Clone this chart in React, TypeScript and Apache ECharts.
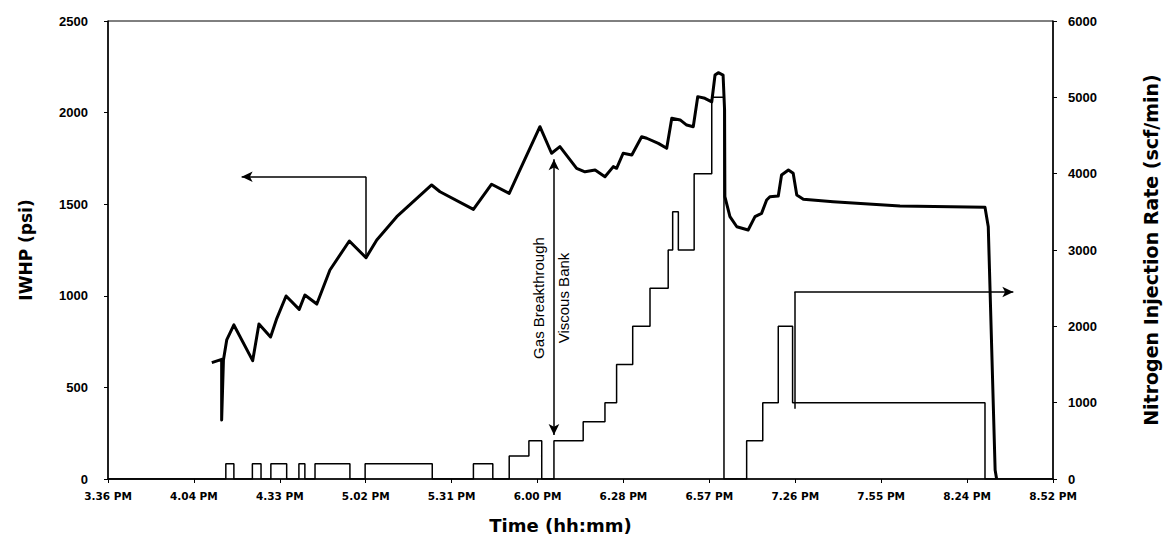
import React, { useEffect, useRef } from "react";
import * as echarts from "echarts";

// X axis: minutes after 3:36 PM, ticks every 28.8 min
const xTickLabels = [
  "3.36 PM", "4.04 PM", "4.33 PM", "5.02 PM", "5.31 PM", "6.00 PM",
  "6.28 PM", "6.57 PM", "7.26 PM", "7.55 PM", "8.24 PM", "8.52 PM",
];
const xStep = 28.8;

// IWHP (psi) vs minutes after 3:36 PM
const iwhpTime = [
  34.8, 38.1, 38.1, 38.7, 39.8, 42.2, 48.5, 50.6, 54.5, 56.6, 59.7, 64.1, 66.0,
  70.0, 74.4, 80.9, 86.5, 90.1, 96.8, 108.5, 111.3, 122.5, 128.6, 134.5, 138.1,
  144.8, 148.7, 151.5, 157.1, 159.9, 163.3, 166.6, 169.4, 170.5, 172.7, 175.6,
  178.9, 180.6, 184.5, 187.3, 189.0, 191.8, 194.0, 196.2, 197.7, 200.1, 202.4,
  203.5, 204.6, 206.2, 206.7, 206.8, 208.5, 210.8, 214.6, 216.9, 219.1, 220.8,
  221.9, 224.7, 225.8, 228.1, 229.7, 230.9, 233.1, 243.1, 265.5, 294.0, 295.1,
  297.4, 297.9,
];
const iwhpPsi = [
  635, 653, 322, 650, 759, 841, 646, 846, 775, 877, 999, 926, 1004,
  955, 1141, 1299, 1208, 1305, 1432, 1605, 1568, 1472, 1609, 1559, 1687,
  1923, 1778, 1814, 1696, 1677, 1687, 1650, 1705, 1696, 1778, 1769,
  1868, 1860, 1832, 1805, 1969, 1960, 1932, 1923, 2087, 2078, 2059,
  2205, 2218, 2205, 2014, 1541, 1432, 1377, 1359, 1432, 1450, 1523,
  1541, 1545, 1659, 1687, 1669, 1550, 1527, 1514, 1490, 1483, 1377,
  49, 0,
];

// Nitrogen injection rate (scf/min): value holds from this time until the next
const rateTime = [
  0, 39.5, 42.2, 48.4, 51.3, 54.6, 59.9, 64.0, 66.0, 69.4, 81.1, 86.2, 108.7,
  122.5, 129.0, 134.5, 141.1, 145.4, 149.5, 159.3, 166.6, 170.5, 175.9, 181.7,
  187.8, 189.3, 191.2, 196.5, 202.4, 206.5, 214.1, 219.5, 224.7, 229.5, 294.0,
  316.8,
];
const rateScf = [
  0, 200, 0, 200, 0, 200, 0, 200, 0, 200, 0, 200, 0,
  200, 0, 300, 500, 0, 500, 750, 1000, 1500, 2000, 2500,
  3000, 3500, 3000, 4000, 5000, 0, 500, 1000, 2000, 1000, 0,
  0,
];

// Annotation anchors (data units)
const leftArrow = { x: 86.5, fromPsi: 1208, atPsi: 1650, toX: 44.8 };
const rightArrow = { x: 230.1, fromScf: 920, atScf: 2450, toX: 303.5 };
const breakthrough = { x: 149.5, topPsi: 1745, bottomPsi: 240 };

export default function App() {
  const ref = useRef<HTMLDivElement>(null);

  useEffect(() => {
    if (!ref.current) return;
    const chart = echarts.init(ref.current, undefined, { renderer: "svg" });
    const black = "#000";
    const tickFont = { color: black, fontFamily: "Liberation Sans", fontWeight: "bold" as const, fontSize: 13 };
    const plain = (v: number) => String(v);

    chart.setOption({
      animation: false,
      backgroundColor: "#fff",
      grid: { left: 108, right: 117, top: 21, bottom: 61, show: true, borderColor: black, borderWidth: 1 },
      xAxis: {
        type: "value",
        min: 0,
        max: xStep * (xTickLabels.length - 1),
        interval: xStep,
        name: "Time (hh:mm)",
        nameLocation: "middle",
        nameGap: 37,
        nameTextStyle: { color: black, fontFamily: "DejaVu Sans", fontWeight: "bold", fontSize: 18, padding: [0, 40, 0, 0] },
        axisLine: { show: true, lineStyle: { color: black, width: 1.5 } },
        axisTick: { show: true, length: 4, lineStyle: { color: black } },
        splitLine: { show: false },
        axisLabel: {
          color: black,
          fontFamily: "DejaVu Sans",
          fontWeight: "bold",
          fontSize: 10.5,
          margin: 11,
          formatter: (v: number) => xTickLabels[Math.round(v / xStep)] ?? "",
        },
      },
      yAxis: [
        {
          type: "value",
          position: "left",
          min: 0,
          max: 2500,
          interval: 500,
          name: "IWHP (psi)",
          nameLocation: "middle",
          nameRotate: 90,
          nameGap: 74,
          nameTextStyle: { color: black, fontFamily: "DejaVu Sans", fontWeight: "bold", fontSize: 17 },
          axisLine: { show: true, lineStyle: { color: black, width: 1.5 } },
          axisTick: { show: true, length: 4, lineStyle: { color: black } },
          splitLine: { show: false },
          axisLabel: { ...tickFont, margin: 20, formatter: plain },
        },
        {
          type: "value",
          position: "right",
          min: 0,
          max: 6000,
          interval: 1000,
          name: "Nitrogen Injection Rate (scf/min)",
          nameLocation: "middle",
          nameRotate: 90,
          nameGap: 88,
          nameTextStyle: { color: black, fontFamily: "DejaVu Sans", fontWeight: "bold", fontSize: 19 },
          axisLine: { show: true, lineStyle: { color: black, width: 1.5 } },
          axisTick: { show: true, length: 4, lineStyle: { color: black } },
          splitLine: { show: false },
          axisLabel: { ...tickFont, margin: 15, formatter: plain },
        },
      ],
      series: [
        {
          name: "IWHP",
          type: "line",
          yAxisIndex: 0,
          showSymbol: false,
          symbol: "none",
          lineStyle: { color: black, width: 3, join: "round" },
          data: iwhpTime.map((t, i) => [t, iwhpPsi[i]]),
          z: 3,
          markLine: {
            silent: true,
            animation: false,
            label: { show: false },
            lineStyle: { color: black, width: 1.5, type: "solid" },
            symbolSize: [8, 11],
            data: [
              [
                { coord: [leftArrow.x, leftArrow.fromPsi], symbol: "none" },
                { coord: [leftArrow.x, leftArrow.atPsi], symbol: "none" },
              ],
              [
                { coord: [leftArrow.x, leftArrow.atPsi], symbol: "none" },
                { coord: [leftArrow.toX, leftArrow.atPsi], symbol: "arrow" },
              ],
              [
                { coord: [breakthrough.x, breakthrough.topPsi], symbol: "arrow" },
                { coord: [breakthrough.x, breakthrough.bottomPsi], symbol: "arrow" },
              ],
            ],
          },
        },
        {
          name: "Nitrogen Injection Rate",
          type: "line",
          yAxisIndex: 1,
          step: "end",
          showSymbol: false,
          symbol: "none",
          lineStyle: { color: black, width: 1.5 },
          data: rateTime.map((t, i) => [t, rateScf[i]]),
          z: 2,
          markLine: {
            silent: true,
            animation: false,
            label: { show: false },
            lineStyle: { color: black, width: 1.5, type: "solid" },
            symbolSize: [8, 11],
            data: [
              [
                { coord: [rightArrow.x, rightArrow.fromScf], symbol: "none" },
                { coord: [rightArrow.x, rightArrow.atScf], symbol: "none" },
              ],
              [
                { coord: [rightArrow.x, rightArrow.atScf], symbol: "none" },
                { coord: [rightArrow.toX, rightArrow.atScf], symbol: "arrow" },
              ],
            ],
          },
        },
      ],
      graphic: [
        {
          type: "text",
          x: 538,
          y: 298,
          rotation: Math.PI / 2,
          style: {
            text: "Gas Breakthrough",
            fill: black,
            fontFamily: "Liberation Sans",
            fontSize: 15,
            align: "center",
            verticalAlign: "middle",
          },
        },
        {
          type: "text",
          x: 563,
          y: 298,
          rotation: Math.PI / 2,
          style: {
            text: "Viscous Bank",
            fill: black,
            fontFamily: "Liberation Sans",
            fontSize: 15,
            align: "center",
            verticalAlign: "middle",
          },
        },
      ],
    });

    return () => chart.dispose();
  }, []);

  return (
    <div
      ref={ref}
      style={{ position: "fixed", left: 0, top: 0, width: 1170, height: 540, background: "#fff" }}
    />
  );
}
